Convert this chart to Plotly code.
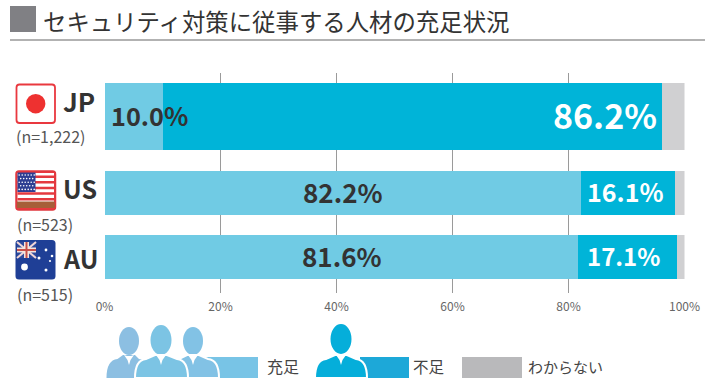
import plotly.graph_objects as go

W, H = 705, 388
FONT = "Noto Sans CJK JP"
TITLE = "セキュリティ対策に従事する人材の充足状況"
countries = ["JP", "US", "AU"]
samples = ["(n=1,222)", "(n=523)", "(n=515)"]
enough = [10.0, 82.2, 81.6]
short = [86.2, 16.1, 17.1]
unknown = [3.8, 1.7, 1.3]
tick_vals = [0, 20, 40, 60, 80, 100]
tick_text = ["0%", "20%", "40%", "60%", "80%", "100%"]
series_names = ["充足", "不足", "わからない"]

LIGHT, DARK, GREY = "#70CBE4", "#00B4D8", "#D0D0D2"
TXT = "#333333"
# layout (pixel) constants
PX0, PX1 = 104.5, 684.5
PY0, PY1 = 73, 293
ROW_Y = [116.5, 193, 257]
ROW_H = [67, 44, 44]


def px(x):
    return x / W


def py(y):
    return 1 - y / H


def pt(x, y):
    return f"{px(x):.5f},{py(y):.5f}"


shapes = []


def rect(x0, y0, x1, y1, fill):
    shapes.append(dict(type="rect", xref="paper", yref="paper", x0=px(x0), x1=px(x1), y0=py(y0), y1=py(y1),
                       fillcolor=fill, line_width=0, layer="above"))


def ell(cx, cy, rx, ry, fill):
    shapes.append(dict(type="circle", xref="paper", yref="paper", x0=px(cx - rx), x1=px(cx + rx), y0=py(cy - ry),
                       y1=py(cy + ry), fillcolor=fill, line_width=0, layer="above"))


def path(points, fill=None, line=None, lw=0):
    d = ""
    for c in points:
        if c[0] == "Z":
            d += " Z"
        elif c[0] == "Q":
            d += f" Q {pt(c[1], c[2])} {pt(c[3], c[4])}"
        else:
            d += f" {c[0]} {pt(c[1], c[2])}"
    shapes.append(dict(type="path", xref="paper", yref="paper", path=d.strip(), fillcolor=fill or "rgba(0,0,0,0)",
                       line=dict(color=line or "rgba(0,0,0,0)", width=lw), layer="above"))


def rrect(x0, y0, x1, y1, r, fill=None, line=None, lw=0):
    path([("M", x0 + r, y0), ("L", x1 - r, y0), ("Q", x1, y0, x1, y0 + r), ("L", x1, y1 - r),
          ("Q", x1, y1, x1 - r, y1), ("L", x0 + r, y1), ("Q", x0, y1, x0, y1 - r), ("L", x0, y0 + r),
          ("Q", x0, y0, x0 + r, y0), ("Z",)], fill, line, lw)


def person(cx, head_cy, rx, ry, x0, x1, color, outline=False):
    ell(cx, head_cy, rx, ry, color)
    y = 378
    top = 355
    path([("M", x0, y), ("Q", x0, top + 5, x0 + 11, top + 4), ("L", cx - 6, top), ("L", cx + 6, top),
          ("L", x1 - 11, top + 4), ("Q", x1, top + 5, x1, y), ("Z",)], color, "white" if outline else None,
         2 if outline else 0)
    path([("M", cx - 5, top), ("L", cx - 1.5, top + 5), ("L", cx, top + 10), ("L", cx + 1.5, top + 5),
          ("L", cx + 5, top), ("L", cx + 2, top + 1), ("L", cx - 2, top + 1), ("Z",)], "white")


# header
rect(10, 6, 36, 32, "#808084")
shapes.append(dict(type="line", xref="paper", yref="paper", x0=px(10), x1=1, y0=py(40), y1=py(40),
                   line=dict(color="#999999", width=1.5), layer="above"))

# flags: Japan
rrect(16.5, 84.5, 55, 123, 3, "white", "#E9383F", 1.8)
ell(35.7, 103.7, 9.7, 9.7, "#EE3130")

# flags: USA
rrect(16, 171, 55.5, 210, 3, "#E9383F")
stripe_n = 6
rect(17.5, 173, 54, 208, "white")
for i in range(stripe_n):
    rect(17.5, 175.5 + i * 5.6, 54, 178 + i * 5.6, "#E4393F")
rect(17, 201.5, 55, 208, "#A65E38")
rect(17.5, 172.5, 35.5, 192, "#2D3E92")
for r in range(5):
    for c in range(6 if r % 2 == 0 else 5):
        ell(19.2 + c * 3 + (0 if r % 2 == 0 else 1.5), 175 + r * 3.6, 0.8, 0.8, "white")
rrect(16, 171, 55.5, 210, 3, None, "#E0393F", 1.5)

# flags: Australia
rrect(15.5, 240, 55.5, 279.5, 3.5, "#1F3F96")
rect(17, 242, 36, 258, "#2E4A9C")
for a, b in (((17, 242), (36, 258)), ((36, 242), (17, 258))):
    shapes.append(dict(type="line", xref="paper", yref="paper", x0=px(a[0]), y0=py(a[1]), x1=px(b[0]), y1=py(b[1]),
                       line=dict(color="#F2D6D6", width=2), layer="above"))
rect(17, 247.5, 36, 252.5, "#F3E6E0")
rect(24, 242, 29, 258, "#F3E6E0")
rect(17, 249, 36, 251, "#C8504A")
rect(25.5, 242, 27.5, 258, "#C8504A")
for cx_, cy_, r_ in ((24.5, 267, 3.4), (46, 250, 1.4), (39, 258, 1.5), (52, 256, 1.3), (50, 261, 1.1), (46, 270, 1.5)):
    ell(cx_, cy_, r_, r_, "white")

# legend icons
rect(200, 357, 258, 378, "#78C4E6")
person(129, 341, 10, 14, 106.5, 150, "#8CBFE2")
person(193, 341, 10, 14, 168, 219, "#82C2E5", outline=True)
person(161, 340, 10.5, 15, 135, 188, "#7CC4E4", outline=True)
rect(360, 357, 409, 378, "#1DA8D8")
person(341, 339, 10.5, 15, 315, 367, "#05AEDA", outline=True)
rect(462, 357, 522, 378, "#B9B9BB")


def note(text, x, y, size, color=TXT, bold=False, anchor="left", ref="paper"):
    pos = dict(xref="paper", yref="paper", x=px(x), y=py(y)) if ref == "paper" else dict(xref="x", yref="y", x=x, y=y)
    return dict(text=f"<b>{text}</b>" if bold else text, showarrow=False, xanchor=anchor, yanchor="middle",
                font=dict(family=FONT, size=size, color=color), borderpad=0, borderwidth=0, **pos)


annotations = [note(TITLE, 42.5, 20.5, 23.4, "#333333")]
for name, s, yn, yc, xn, sz in zip(countries, samples, [136, 224, 294], [101, 188, 258], [16, 17, 17], [26, 25, 25]):
    annotations.append(note(name, 63, yc, sz, TXT, True))
    annotations.append(note(s, xn, yn, 16, "#555555"))

LABEL_Y = [y - 2 for y in ROW_Y]
annotations += [
    note(f"{enough[0]:.1f}%", 1.2, LABEL_Y[0], 25.3, TXT, True, "left", "data"),
    note(f"{short[0]:.1f}%", 95.2, LABEL_Y[0], 34, "white", True, "right", "data"),
    note(f"{enough[1]:.1f}%", enough[1] / 2, LABEL_Y[1], 26, TXT, True, "center", "data"),
    note(f"{short[1]:.1f}%", enough[1] + short[1] / 2 - 0.5, LABEL_Y[1], 25, "white", True, "center", "data"),
    note(f"{enough[2]:.1f}%", enough[2] / 2 + 0.2, LABEL_Y[2], 26, TXT, True, "center", "data"),
    note(f"{short[2]:.1f}%", enough[2] + short[2] / 2 - 0.6, LABEL_Y[2], 24, "white", True, "center", "data"),
    note(series_names[0], 267, 366, 16, "#444444"),
    note(series_names[1], 413, 366, 15.5, "#444444"),
    note(series_names[2], 528, 366, 15, "#444444"),
]

fig = go.Figure()
for vals, name, col in zip((enough, short, unknown), series_names, (LIGHT, DARK, GREY)):
    fig.add_bar(x=vals, y=ROW_Y, width=ROW_H, orientation="h", name=name, marker=dict(color=col, line_width=0))

fig.update_layout(
    width=W, height=H, margin=dict(l=0, r=0, t=0, b=0, autoexpand=False), barmode="stack", showlegend=False,
    paper_bgcolor="white", plot_bgcolor="rgba(0,0,0,0)", font=dict(family=FONT),
    xaxis=dict(domain=[PX0 / W, PX1 / W], range=[0, 100], tickmode="array", tickvals=tick_vals, ticktext=tick_text,
               showgrid=True, gridcolor="#9A9A9A", gridwidth=1, zeroline=False, showline=False, ticks="outside",
               ticklen=3, tickcolor="rgba(0,0,0,0)",
               automargin=False, tickfont=dict(family=FONT, size=12, color="#666666")),
    yaxis=dict(domain=[1 - PY1 / H, 1 - PY0 / H], range=[PY1, PY0], visible=False),
    shapes=shapes, annotations=annotations,
)
fig.write_html("out.html", post_script="document.body.style.margin='0';", config=dict(displayModeBar=False))
